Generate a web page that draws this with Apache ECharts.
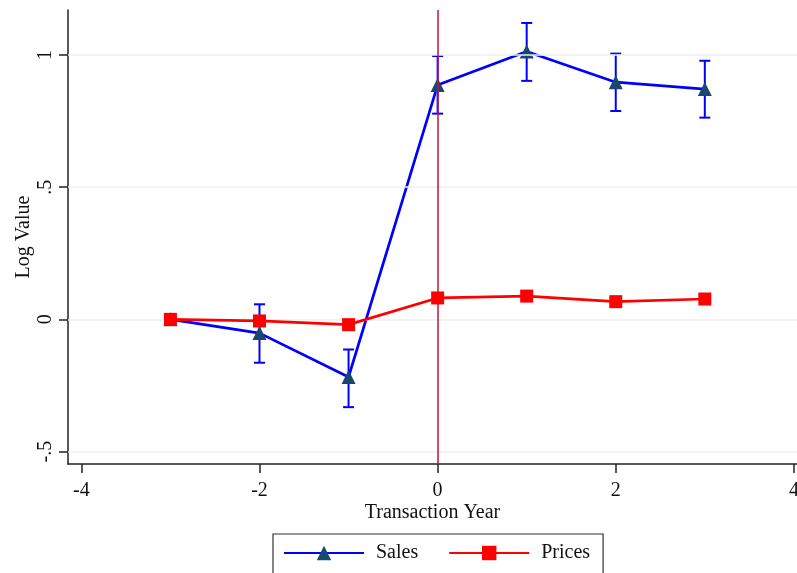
<!DOCTYPE html>
<html>
<head>
<meta charset="utf-8">
<script src="https://cdn.jsdelivr.net/npm/echarts@6/dist/echarts.min.js"></script>
<style>
html,body{margin:0;padding:0;background:#fff;}
#chart{width:797px;height:573px;}
</style>
</head>
<body>
<div id="chart"></div>
<script>
const years = [-3, -2, -1, 0, 1, 2, 3];
const sales = [0, -0.052, -0.218, 0.886, 1.013, 0.897, 0.871];
const salesLow = [null, -0.164, -0.332, 0.778, 0.902, 0.788, 0.763];
const salesHigh = [null, 0.057, -0.114, 0.996, 1.121, 1.005, 0.978];
const prices = [0, -0.006, -0.020, 0.081, 0.088, 0.067, 0.077];
const xTicks = [-4, -2, 0, 2, 4];
const yTicks = [-0.5, 0, 0.5, 1];
const yTickLabels = ['-.5', '0', '.5', '1'];

const FONT = '"Liberation Serif", "DejaVu Serif", serif';
const chart = echarts.init(document.getElementById('chart'), null, {renderer: 'canvas'});

const errData = years.map((x, i) => [x, salesLow[i], salesHigh[i]]).filter(d => d[1] !== null);

chart.setOption({
  animation: false,
  backgroundColor: '#ffffff',
  grid: {left: 68, right: 0, top: 10, bottom: 109, containLabel: false, outerBoundsMode: 'none'},
  xAxis: {
    type: 'value',
    min: -4.150, max: 4.035,
    name: 'Transaction Year',
    nameLocation: 'middle',
    nameGap: 39,
    nameMoveOverlap: false,
    nameTextStyle: {fontFamily: FONT, fontSize: 20, color: '#111'},
    axisLine: {show: true, onZero: false, lineStyle: {color: '#222', width: 1.5}},
    axisTick: {show: true, length: 9, lineStyle: {color: '#222', width: 1.5}, customValues: xTicks},
    axisLabel: {fontFamily: FONT, fontSize: 20, color: '#111', margin: 17, customValues: xTicks,
      formatter: v => String(v)},
    splitLine: {show: false}
  },
  yAxis: {
    type: 'value',
    min: -0.547, max: 1.170,
    name: 'Log Value',
    nameLocation: 'middle',
    nameGap: 34,
    nameMoveOverlap: false,
    nameTextStyle: {fontFamily: FONT, fontSize: 20, color: '#111'},
    axisLine: {show: true, onZero: false, lineStyle: {color: '#222', width: 1.5}},
    axisTick: {show: true, length: 9, lineStyle: {color: '#222', width: 1.5}, customValues: yTicks},
    axisLabel: {fontFamily: FONT, fontSize: 20, color: '#111', margin: 12, rotate: 90,
      customValues: yTicks,
      formatter: v => { const i = yTicks.findIndex(t => Math.abs(t - v) < 1e-9); return i >= 0 ? yTickLabels[i] : ''; }},
    splitLine: {show: false}
  },
  legend: {
    left: 273, top: 534,
    padding: [9, 13, 30, 10],
    borderColor: '#333', borderWidth: 1.2,
    itemWidth: 80, itemHeight: 18, itemGap: 30,
    textStyle: {fontFamily: FONT, fontSize: 20, color: '#111', padding: [0, 0, 0, 7]},
    data: ['Sales', 'Prices']
  },
  series: [
    {
      name: 'grid', type: 'line', data: [], silent: true, z: 1,
      markLine: {
        silent: true, symbol: 'none', label: {show: false},
        lineStyle: {color: '#eaf0f2', width: 1.5, type: 'solid'},
        data: yTicks.map(t => ({yAxis: t}))
      }
    },
    {
      name: 'vline', type: 'line', data: [], silent: true, z: 2,
      markLine: {
        silent: true, symbol: 'none', label: {show: false},
        lineStyle: {color: '#c2143c', width: 1.5, type: 'solid'},
        data: [{xAxis: 0}]
      }
    },
    {
      name: 'Sales err', type: 'custom', z: 3,
      data: errData,
      renderItem: (params, api) => {
        const x = api.value(0);
        const lo = api.coord([x, api.value(1)]);
        const hi = api.coord([x, api.value(2)]);
        const w = 5.5;
        const style = {stroke: '#0000ff', lineWidth: 2};
        return {type: 'group', children: [
          {type: 'line', shape: {x1: lo[0], y1: lo[1], x2: hi[0], y2: hi[1]}, style},
          {type: 'line', shape: {x1: lo[0] - w, y1: lo[1], x2: lo[0] + w, y2: lo[1]}, style},
          {type: 'line', shape: {x1: hi[0] - w, y1: hi[1], x2: hi[0] + w, y2: hi[1]}, style}
        ]};
      }
    },
    {
      name: 'Sales', type: 'line', z: 4,
      data: years.map((x, i) => [x, sales[i]]),
      symbol: 'triangle', symbolSize: 14,
      itemStyle: {color: '#1a476f'},
      lineStyle: {color: '#0000ff', width: 2.7},
      color: '#0000ff'
    },
    {
      name: 'Prices', type: 'line', z: 5,
      data: years.map((x, i) => [x, prices[i]]),
      symbol: 'rect', symbolSize: 13,
      itemStyle: {color: '#ff0000'},
      lineStyle: {color: '#ff0000', width: 2.7}
    }
  ]
});
</script>
</body>
</html>
